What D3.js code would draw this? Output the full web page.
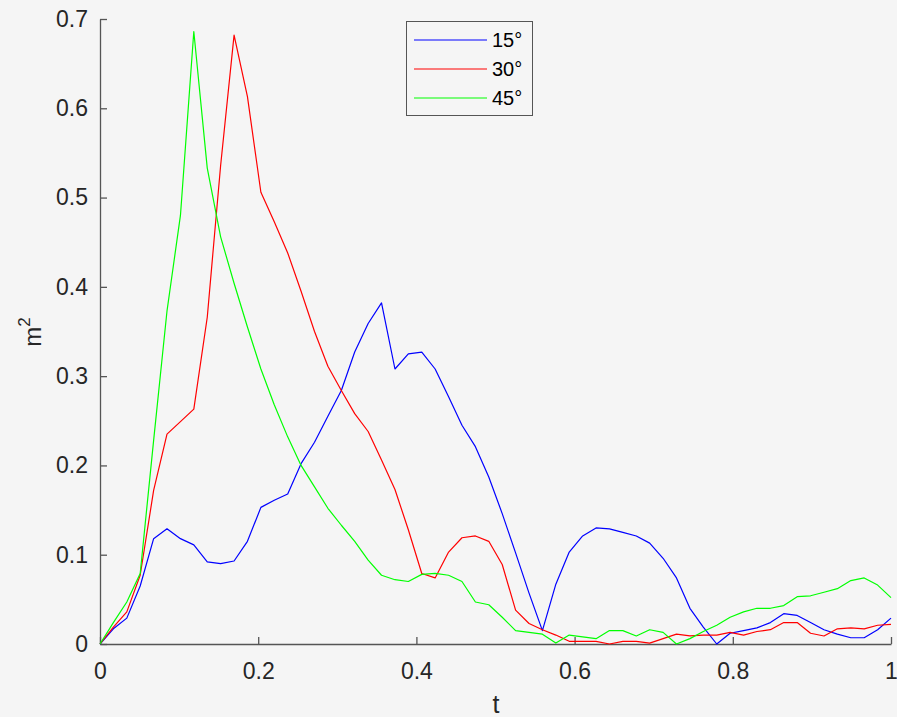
<!DOCTYPE html>
<html><head><meta charset="utf-8">
<script src="https://cdn.jsdelivr.net/npm/d3@7"></script>
<style>
html,body{margin:0;padding:0;background:#f5f5f5;}
svg{display:block;font-family:"Liberation Sans",Arial,sans-serif;}
</style></head>
<body><svg id="c" width="897" height="717"></svg>
<script>
const t = [0, 0.0169, 0.0339, 0.0508, 0.0678, 0.0847, 0.1017, 0.1186, 0.1356, 0.1525, 0.1695, 0.1864, 0.2034, 0.2203, 0.2373, 0.2542, 0.2712, 0.2881, 0.3051, 0.3220, 0.3390, 0.3559, 0.3729, 0.3898, 0.4068, 0.4237, 0.4407, 0.4576, 0.4746, 0.4915, 0.5085, 0.5254, 0.5424, 0.5593, 0.5763, 0.5932, 0.6102, 0.6271, 0.6441, 0.6610, 0.6780, 0.6949, 0.7119, 0.7288, 0.7458, 0.7627, 0.7797, 0.7966, 0.8136, 0.8305, 0.8475, 0.8644, 0.8814, 0.8983, 0.9153, 0.9322, 0.9492, 0.9661, 0.9831, 1];
const s15 = [0, 0.017, 0.029, 0.065, 0.118, 0.129, 0.118, 0.111, 0.092, 0.090, 0.093, 0.115, 0.153, 0.161, 0.168, 0.202, 0.226, 0.255, 0.284, 0.327, 0.359, 0.382, 0.308, 0.325, 0.327, 0.308, 0.277, 0.245, 0.221, 0.187, 0.146, 0.102, 0.057, 0.015, 0.067, 0.103, 0.121, 0.130, 0.129, 0.125, 0.121, 0.113, 0.096, 0.074, 0.040, 0.019, 0.000, 0.012, 0.015, 0.018, 0.024, 0.034, 0.032, 0.024, 0.016, 0.011, 0.007, 0.007, 0.016, 0.029];
const s30 = [0, 0.019, 0.036, 0.077, 0.172, 0.235, 0.249, 0.263, 0.366, 0.536, 0.682, 0.613, 0.506, 0.473, 0.438, 0.395, 0.350, 0.311, 0.284, 0.258, 0.238, 0.206, 0.173, 0.128, 0.079, 0.074, 0.103, 0.119, 0.121, 0.115, 0.089, 0.038, 0.023, 0.016, 0.010, 0.003, 0.003, 0.003, 0.000, 0.003, 0.003, 0.001, 0.006, 0.011, 0.009, 0.010, 0.010, 0.013, 0.010, 0.014, 0.016, 0.024, 0.024, 0.012, 0.009, 0.017, 0.018, 0.017, 0.021, 0.022];
const s45 = [0, 0.024, 0.047, 0.079, 0.228, 0.373, 0.480, 0.686, 0.533, 0.456, 0.404, 0.355, 0.308, 0.268, 0.232, 0.200, 0.176, 0.152, 0.133, 0.115, 0.094, 0.077, 0.072, 0.070, 0.078, 0.079, 0.077, 0.070, 0.047, 0.044, 0.030, 0.015, 0.013, 0.011, 0.001, 0.010, 0.008, 0.006, 0.015, 0.015, 0.009, 0.016, 0.013, 0.000, 0.006, 0.014, 0.021, 0.030, 0.036, 0.040, 0.040, 0.043, 0.053, 0.054, 0.058, 0.062, 0.071, 0.074, 0.066, 0.052];
const seriesNames = ["15°", "30°", "45°"];
const seriesColors = ["#0000ff", "#ff0000", "#00ff00"];
const xTicks = [0, 0.2, 0.4, 0.6, 0.8, 1];
const yTicks = [0, 0.1, 0.2, 0.3, 0.4, 0.5, 0.6, 0.7];

const series = [s15, s30, s45];
const svg = d3.select("#c");
svg.append("rect").attr("width", 897).attr("height", 717).attr("fill", "#f5f5f5");

const x = d3.scaleLinear().domain([0, 1]).range([100, 891]);
const y = d3.scaleLinear().domain([0, 0.7]).range([644, 19]);

const axisColor = "#262626";

const gx = svg.append("g").attr("transform", "translate(0,644)")
  .call(d3.axisBottom(x).tickValues(xTicks).tickFormat(d3.format("")).tickSizeInner(-7).tickSizeOuter(0).tickPadding(19));
const gy = svg.append("g").attr("transform", "translate(100,0)")
  .call(d3.axisLeft(y).tickValues(yTicks).tickFormat(d3.format("")).tickSizeInner(-7).tickSizeOuter(0).tickPadding(12));
[gx, gy].forEach(g => {
  g.select(".domain").attr("stroke", "#555").attr("stroke-width", 1.3);
  g.selectAll(".tick line").attr("stroke", "#555").attr("stroke-width", 1.3);
  g.selectAll(".tick text").attr("fill", axisColor).style("font-size", "23px").style("font-family", "'Liberation Sans', Arial, sans-serif");
});

// lines
const line = d3.line().x((d, i) => x(t[i])).y(d => y(d));
series.forEach((s, k) => {
  svg.append("path").datum(s).attr("d", line)
    .attr("fill", "none").attr("stroke", seriesColors[k]).attr("stroke-width", 1.2)
    .attr("stroke-linejoin", "round");
});

// axis labels
svg.append("text").attr("x", 496).attr("y", 713).attr("text-anchor", "middle")
  .attr("fill", axisColor).style("font-size", "25px").text("t");
const yl = svg.append("text").attr("transform", "translate(41,332) rotate(-90)")
  .attr("text-anchor", "middle").attr("fill", axisColor).style("font-size", "24px");
yl.append("tspan").text("m");
yl.append("tspan").attr("dy", -11).style("font-size", "17px").text("2");

// legend
const lg = svg.append("g");
lg.append("rect").attr("x", 406.5).attr("y", 21.5).attr("width", 126).attr("height", 94)
  .attr("fill", "#f5f5f5").attr("stroke", "#555").attr("stroke-width", 1);
seriesNames.forEach((n, k) => {
  const yy = 40 + k * 29;
  lg.append("line").attr("x1", 414).attr("x2", 487).attr("y1", yy).attr("y2", yy)
    .attr("stroke", seriesColors[k]).attr("stroke-width", 1.2);
  lg.append("text").attr("x", 492).attr("y", yy).attr("dy", "0.36em")
    .attr("fill", "#000").style("font-size", "20px").text(n);
});
</script></body></html>
